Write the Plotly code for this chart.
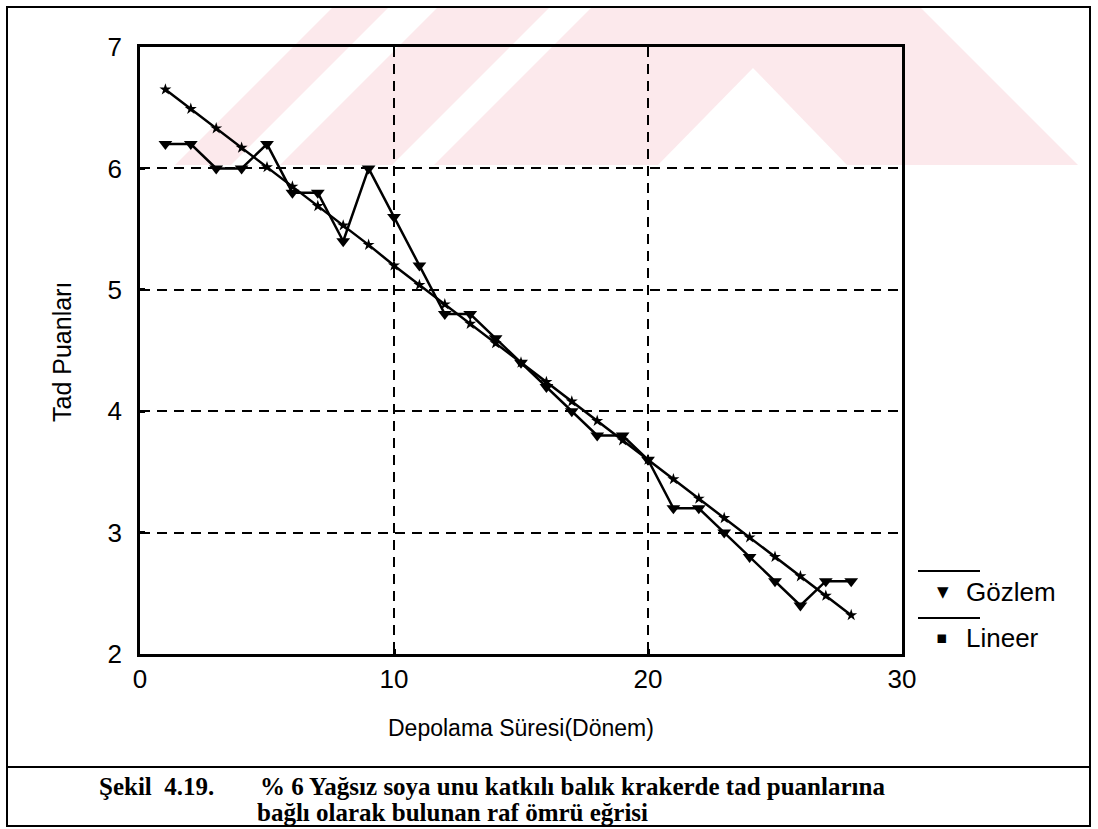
import plotly.graph_objects as go

# ---------------- data ----------------
donem = list(range(1, 29))
gozlem = [6.2, 6.2, 6.0, 6.0, 6.2, 5.8, 5.8, 5.4, 6.0, 5.6,
          5.2, 4.8, 4.8, 4.6, 4.4, 4.2, 4.0, 3.8, 3.8, 3.6,
          3.2, 3.2, 3.0, 2.8, 2.6, 2.4, 2.6, 2.6]
lineer = [6.65, 6.49, 6.33, 6.17, 6.01, 5.85, 5.69, 5.53, 5.37, 5.20,
          5.04, 4.88, 4.72, 4.56, 4.40, 4.24, 4.08, 3.92, 3.76, 3.60,
          3.44, 3.28, 3.12, 2.96, 2.80, 2.64, 2.48, 2.32]
x_ticks = [0, 10, 20, 30]
y_ticks = [2, 3, 4, 5, 6, 7]
series_names = ["Gözlem", "Lineer"]
x_title = "Depolama Süresi(Dönem)"
y_title = "Tad Puanları"
caption_label = "Şekil  4.19."
caption_line1 = "% 6 Yağsız soya unu katkılı balık krakerde tad puanlarına"
caption_line2 = "bağlı olarak bulunan raf ömrü eğrisi"

# ---------------- layout geometry (pixels) ----------------
W, H = 1098, 829
PL, PR, PT, PB = 140, 902, 47, 654   # plot area


def px(x):
    return (x - PL) / (PR - PL)


def py(y):
    return (PB - y) / (PB - PT)


fig = go.Figure()
fig.add_trace(go.Scatter(
    x=donem, y=gozlem, mode="lines+markers", name=series_names[0],
    line=dict(color="black", width=2.5),
    marker=dict(symbol="triangle-down", size=12, color="black"),
    showlegend=False, cliponaxis=False))
fig.add_trace(go.Scatter(
    x=donem, y=lineer, mode="lines+markers", name=series_names[1],
    line=dict(color="black", width=2.5),
    marker=dict(symbol="star", size=9, color="black"),
    showlegend=False, cliponaxis=False))

shapes = []
# pink watermark (background decoration)
pink = "rgba(244,170,182,0.26)"
wm_polys = [
    [(175, 165), (231, 165), (389, 7), (333, 7)],
    [(280, 165), (392, 165), (550, 7), (438, 7)],
    [(434, 165), (658, 165), (753, 68), (847, 165), (1078, 165), (920, 7), (592, 7)],
]
for poly in wm_polys:
    path = "M " + " L ".join(f"{px(a):.5f},{py(b):.5f}" for a, b in poly) + " Z"
    shapes.append(dict(type="path", xref="paper", yref="paper", path=path,
                       fillcolor=pink, line=dict(width=0), layer="below"))

# outer frame and caption separator
shapes.append(dict(type="rect", xref="paper", yref="paper",
                   x0=px(7), x1=px(1090), y0=py(7), y1=py(826),
                   line=dict(color="black", width=2), layer="above"))
shapes.append(dict(type="line", xref="paper", yref="paper",
                   x0=px(7), x1=px(1090), y0=py(767), y1=py(767),
                   line=dict(color="black", width=2)))
# legend lines
for ly in (571, 618):
    shapes.append(dict(type="line", xref="paper", yref="paper",
                       x0=px(918), x1=px(980), y0=py(ly), y1=py(ly),
                       line=dict(color="black", width=2)))


def ann(text, x, y, size, family, xanchor="center", **kw):
    return dict(text=text, x=px(x), y=py(y), xref="paper", yref="paper",
                xanchor=xanchor, yanchor="middle", showarrow=False,
                font=dict(size=size, color="black", family=family), **kw)


annotations = [
    ann("▼", 943, 592, 15, "DejaVu Sans"),
    ann("▪", 942, 637, 17, "DejaVu Sans"),
    ann(series_names[0], 964, 592, 26, "Liberation Sans", xanchor="left"),
    ann(series_names[1], 964, 638, 26, "Liberation Sans", xanchor="left"),
    ann(x_title, 521, 728, 23, "Liberation Sans"),
    ann(y_title, 62, 352, 25, "Liberation Sans", textangle=-90),
    ann("<b>" + caption_label + "</b>", 97, 786, 25, "Liberation Serif", xanchor="left"),
    ann("<b>" + caption_line1 + "</b>", 258, 786, 25, "Liberation Serif", xanchor="left"),
    ann("<b>" + caption_line2 + "</b>", 255, 812, 25, "Liberation Serif", xanchor="left"),
]

axis_common = dict(
    showline=True, linecolor="black", linewidth=2.5, mirror=True,
    showgrid=True, gridcolor="black", gridwidth=2, griddash="10px,7px",
    zeroline=False, ticks="inside", ticklen=5, tickwidth=3, tickcolor="black",
    tickfont=dict(size=26, color="black", family="Liberation Sans"),
)

fig.update_layout(
    width=W, height=H,
    margin=dict(l=PL, r=W - PR, t=PT, b=H - PB),
    paper_bgcolor="white", plot_bgcolor="rgba(0,0,0,0)",
    xaxis=dict(range=[0, 30], tickvals=x_ticks, ticklabelstandoff=0, **axis_common),
    yaxis=dict(range=[2, 7], tickvals=y_ticks, ticklabelstandoff=10, **axis_common),
    shapes=shapes, annotations=annotations,
    showlegend=False,
)

fig.write_html("out.html")
